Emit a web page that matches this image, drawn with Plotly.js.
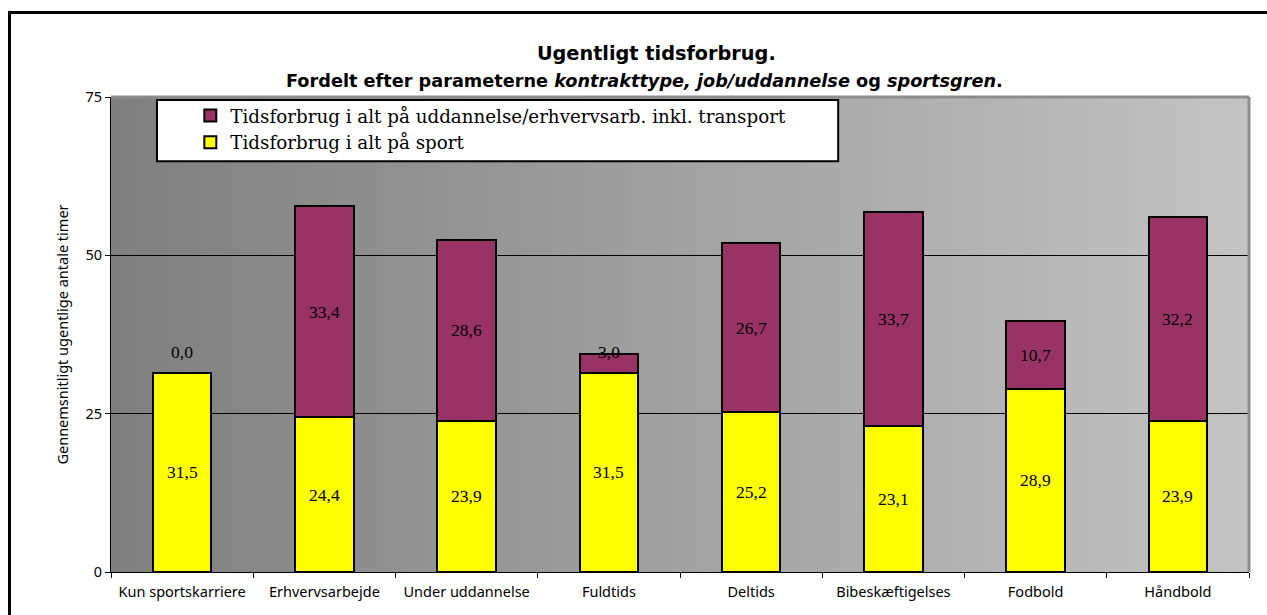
<!DOCTYPE html>
<html>
<head>
<meta charset="utf-8">
<script src="https://cdn.plot.ly/plotly-3.0.1.min.js"></script>
<style>
  html, body { margin: 0; padding: 0; background: #fff; }
  #wrap { position: relative; width: 1267px; height: 615px; overflow: hidden; }
  #chart { position: absolute; left: 0; top: 0; width: 1267px; height: 615px; }
  #frame { position: absolute; left: 8px; top: 11px; width: 1280px; height: 700px;
           border-left: 3px solid #000; border-top: 3px solid #000; pointer-events: none; }
</style>
</head>
<body>
<div id="wrap">
  <div id="chart"></div>
  <div id="frame"></div>
</div>
<script>
const categories = ["Kun sportskarriere", "Erhvervsarbejde", "Under uddannelse", "Fuldtids",
                    "Deltids", "Bibeskæftigelses", "Fodbold", "Håndbold"];
const sportHours = [31.5, 24.4, 23.9, 31.5, 25.2, 23.1, 28.9, 23.9];
const workHours  = [0.0, 33.4, 28.6, 3.0, 26.7, 33.7, 10.7, 32.2];
const seriesNames = ["Tidsforbrug i alt på sport",
                     "Tidsforbrug i alt på uddannelse/erhvervsarb. inkl. transport"];
const yTicks = [0, 25, 50, 75];

const fmt = v => v.toFixed(1).replace('.', ',');

const traces = [
  { type: 'bar', name: seriesNames[0], x: categories, y: sportHours,
    marker: { color: '#FFFF00', line: { color: '#000', width: 2 } }, hoverinfo: 'y' },
  { type: 'bar', name: seriesNames[1], x: categories, y: workHours,
    marker: { color: '#993366', line: { color: '#000', width: 2 } }, hoverinfo: 'y' }
];

const labelFont = { family: 'Liberation Serif', size: 17.5, color: '#000' };
const annotations = [];
categories.forEach((c, i) => {
  annotations.push({ x: c, y: sportHours[i] / 2, text: fmt(sportHours[i]), showarrow: false,
                     font: labelFont, xref: 'x', yref: 'y' });
  const w = workHours[i];
  const yw = w < 5 ? sportHours[i] + 3.3 : sportHours[i] + w / 2;
  annotations.push({ x: c, y: yw, text: fmt(w), showarrow: false, font: labelFont, xref: 'x', yref: 'y' });
});
annotations.push({
  xref: 'paper', yref: 'paper', x: 0.469, y: 1.034, xanchor: 'center', yanchor: 'middle', showarrow: false,
  text: '<b>Fordelt efter parameterne <i>kontrakttype, job/uddannelse</i> og <i>sportsgren</i>.</b>',
  font: { family: 'DejaVu Sans', size: 17.7, color: '#000' }
});

const gradSvg = '<svg xmlns="http://www.w3.org/2000/svg" width="200" height="100" preserveAspectRatio="none">' +
  '<defs><linearGradient id="g" x1="0" x2="1" y1="0" y2="0">' +
  '<stop offset="0" stop-color="#7f7f7f"/><stop offset="1" stop-color="#c3c3c3"/>' +
  '</linearGradient></defs><rect width="200" height="100" fill="url(#g)"/></svg>';

const tickFont = { family: 'Noto Sans', size: 14.5, color: '#000' };

const layout = {
  width: 1267, height: 615,
  margin: { l: 111, r: 18, t: 97, b: 43 },
  paper_bgcolor: '#fff', plot_bgcolor: 'rgba(0,0,0,0)',
  barmode: 'stack', bargap: 0.59,
  title: { text: '<b>Ugentligt tidsforbrug.</b>', xref: 'container', yref: 'container',
           x: 0.518, xanchor: 'center', y: 0.914, yanchor: 'middle',
           font: { family: 'DejaVu Sans', size: 19.3, color: '#000' } },
  xaxis: { type: 'category', tickson: 'boundaries', ticks: 'outside', ticklen: 5, tickcolor: '#000',
           showline: true, linecolor: '#000', linewidth: 1, showgrid: false, ticklabelstandoff: 7,
           tickfont: tickFont },
  yaxis: { range: [0, 75], tickvals: yTicks, ticktext: yTicks.map(String), ticks: 'outside', ticklen: 5,
           tickcolor: '#000', showline: true, linecolor: '#000', linewidth: 1,
           showgrid: true, gridcolor: '#000', gridwidth: 1, zeroline: false,
           tickfont: tickFont,
           title: { text: 'Gennemsnitligt ugentlige antale timer', standoff: 13,
                    font: tickFont } },
  legend: { x: 0.0697, y: 1.0, xanchor: 'left', yanchor: 'top', traceorder: 'reversed',
            bgcolor: 'rgba(0,0,0,0)', borderwidth: 0,
            font: { family: 'DejaVu Serif', size: 18.3, color: '#000' } },
  images: [{ source: 'data:image/svg+xml;charset=utf-8,' + encodeURIComponent(gradSvg),
             xref: 'paper', yref: 'paper', x: 0, y: 1, sizex: 1, sizey: 1,
             sizing: 'stretch', layer: 'below', xanchor: 'left', yanchor: 'top' }],
  shapes: [
    { type: 'line', xref: 'paper', yref: 'paper', x0: 0, x1: 1, y0: 1, y1: 1,
      line: { color: '#8c8c8c', width: 3 }, layer: 'above' },
    { type: 'line', xref: 'paper', yref: 'paper', x0: 1, x1: 1, y0: 0, y1: 1,
      line: { color: '#8c8c8c', width: 3 }, layer: 'above' },
    { type: 'rect', xref: 'paper', yref: 'paper', x0: 0.0404, x1: 0.639, y0: 0.865, y1: 0.9937,
      fillcolor: '#fff', line: { color: '#000', width: 2 }, layer: 'above' }
  ],
  annotations: annotations,
  showlegend: true
};

Plotly.newPlot('chart', traces, layout, { displayModeBar: false, staticPlot: true });
</script>
</body>
</html>
